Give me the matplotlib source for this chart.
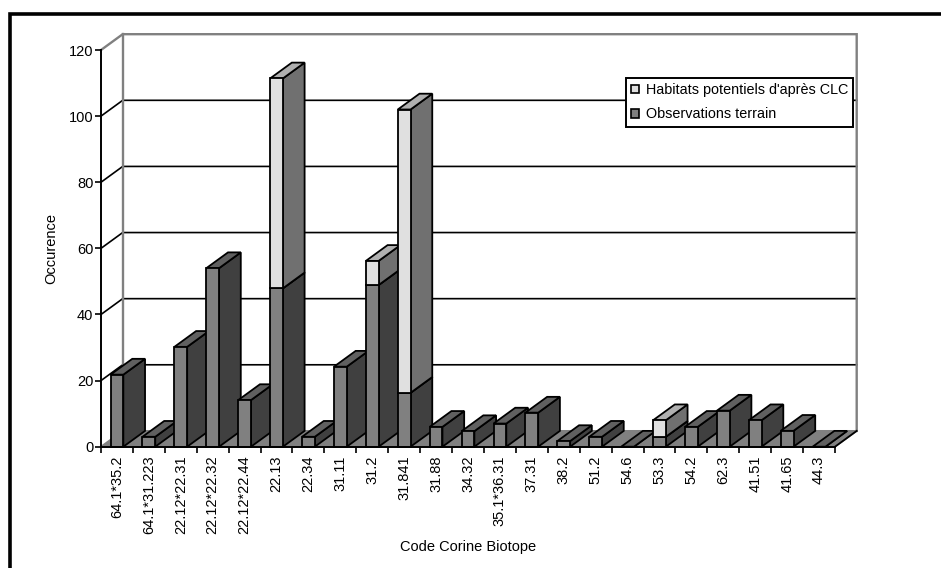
import matplotlib
matplotlib.use('Agg')
import matplotlib.pyplot as plt
from matplotlib.lines import Line2D
from matplotlib.patches import Patch, Polygon

plt.rcParams['font.family'] = ['Liberation Sans', 'DejaVu Sans']
plt.rcParams['font.size'] = 10.5

# --- Donnees ---
codes = ['64.1*35.2', '64.1*31.223', '22.12*22.31', '22.12*22.32', '22.12*22.44',
         '22.13', '22.34', '31.11', '31.2', '31.841', '31.88', '34.32',
         '35.1*36.31', '37.31', '38.2', '51.2', '54.6', '53.3', '54.2', '62.3',
         '41.51', '41.65', '44.3']
observations = [21.8, 3, 30.2, 54, 14.1, 47.9, 3, 24.2, 48.9, 16.3, 6, 4.7,
                7, 10.3, 1.7, 3, 0, 3, 6, 10.9, 8, 4.8, 0]
habitats = [0, 0, 0, 0, 0, 63.5, 0, 0, 7.3, 85.7, 0, 0,
            0, 0, 0, 0, 0, 5, 0, 0, 0, 0, 0]
y_ticks = [0, 20, 40, 60, 80, 100, 120]

# Decalage de la perspective (unites des axes)
DX = 0.68
DY = 4.78
BAR_START = 0.30
BAR_W = 0.40
LW = 1.3


def poly(ax, pts, face, edge='black', lw=LW, z=2):
    ax.add_patch(Polygon(pts, closed=True, facecolor=face, edgecolor=edge,
                         linewidth=lw, zorder=z, clip_on=False, joinstyle='miter'))


def draw_block(ax, x, y0, y1, front, side, top, z):
    x1 = x + BAR_W
    poly(ax, [(x1, y0), (x1 + DX, y0 + DY), (x1 + DX, y1 + DY), (x1, y1)], side, z=z)
    poly(ax, [(x, y1), (x1, y1), (x1 + DX, y1 + DY), (x + DX, y1 + DY)], top, z=z)
    poly(ax, [(x, y0), (x1, y0), (x1, y1), (x, y1)], front, z=z)


fig = plt.figure(figsize=(9.41, 5.68), dpi=100)
ax = fig.add_axes([101 / 941, (568 - 446.7) / 568, 734 / 941, 396.7 / 568])
n = len(codes)
ax.set_xlim(0, n)
ax.set_ylim(0, 120)

# Parois du fond et plancher
poly(ax, [(0, 0), (n, 0), (n + DX, DY), (DX, DY)], '#808080', edge='#808080', z=1)
for v in y_ticks[1:-1]:
    ax.plot([0, DX, n + DX], [v, v + DY, v + DY], color='black', lw=1.2, zorder=1.5,
            clip_on=False, solid_joinstyle='miter')
wall_x = [0, DX, n + DX, n + DX]
wall_y = [120, 120 + DY, 120 + DY, DY]
ax.plot(wall_x, wall_y, color='#808080', lw=1.7, zorder=1.5, clip_on=False,
        solid_joinstyle='miter')
ax.plot([DX, DX], [DY, 120 + DY], color='#808080', lw=1.7, zorder=1.5, clip_on=False)
ax.plot([n, n + DX], [0, DY], color='black', lw=LW, zorder=1.6, clip_on=False)

# Barres empilees, de gauche a droite pour que chaque barre couvre la precedente
for i in range(n):
    x = i + BAR_START
    z = 3 + i * 0.01
    draw_block(ax, x, 0, observations[i], '#808080', '#404040', '#606060', z)
    if habitats[i] > 0:
        total = observations[i] + habitats[i]
        draw_block(ax, x, observations[i], total, '#E0E0E0', '#707070', '#B0B0B0', z + 0.001)

# Axes
for s in ['top', 'right']:
    ax.spines[s].set_visible(False)
for s in ['left', 'bottom']:
    ax.spines[s].set_linewidth(1.4)
    ax.spines[s].set_zorder(10)
ax.patch.set_visible(False)
ax.set_yticks(y_ticks)
ax.tick_params(axis='y', length=4, width=1.2, pad=1.5, labelsize=10.5)
ax.set_xticks(range(n + 1))
ax.set_xticklabels([])
ax.tick_params(axis='x', which='major', length=4, width=1.2)
ax.set_xticks([i + 0.5 for i in range(n)], minor=True)
ax.set_xticklabels(codes, minor=True, rotation=90, fontsize=10.5)
ax.tick_params(axis='x', which='minor', length=0, pad=6.5)

ax.set_xlabel('Code Corine Biotope', fontsize=10.5)
ax.xaxis.set_label_coords(468 / 941, 1 - 540 / 568, transform=fig.transFigure)
ax.set_ylabel('Occurence', fontsize=10.5)
ax.yaxis.set_label_coords(58 / 941, 1 - 248 / 568, transform=fig.transFigure)

# Legende
handles = [Patch(facecolor='#E0E0E0', edgecolor='black', linewidth=1.2),
           Patch(facecolor='#808080', edgecolor='black', linewidth=1.2)]
leg = ax.legend(handles, ["Habitats potentiels d'après CLC", 'Observations terrain'],
                loc='upper left', bbox_to_anchor=(626 / 941, 1 - 78 / 568),
                bbox_transform=fig.transFigure, fontsize=10.4, frameon=True, fancybox=False,
                framealpha=1, edgecolor='black', borderpad=0.35, labelspacing=0.72,
                handlelength=0.55, handleheight=0.55, handletextpad=0.45, borderaxespad=0)
leg.get_frame().set_linewidth(1.4)
leg.set_zorder(20)

# Cadre de la figure (gauche et haut seulement)
fig.add_artist(Line2D([9.5 / 941, 9.5 / 941, 1], [0, 1 - 14 / 568, 1 - 14 / 568],
                      color='black', lw=2.6, solid_joinstyle='miter'))

plt.savefig('out.png', dpi=100)
